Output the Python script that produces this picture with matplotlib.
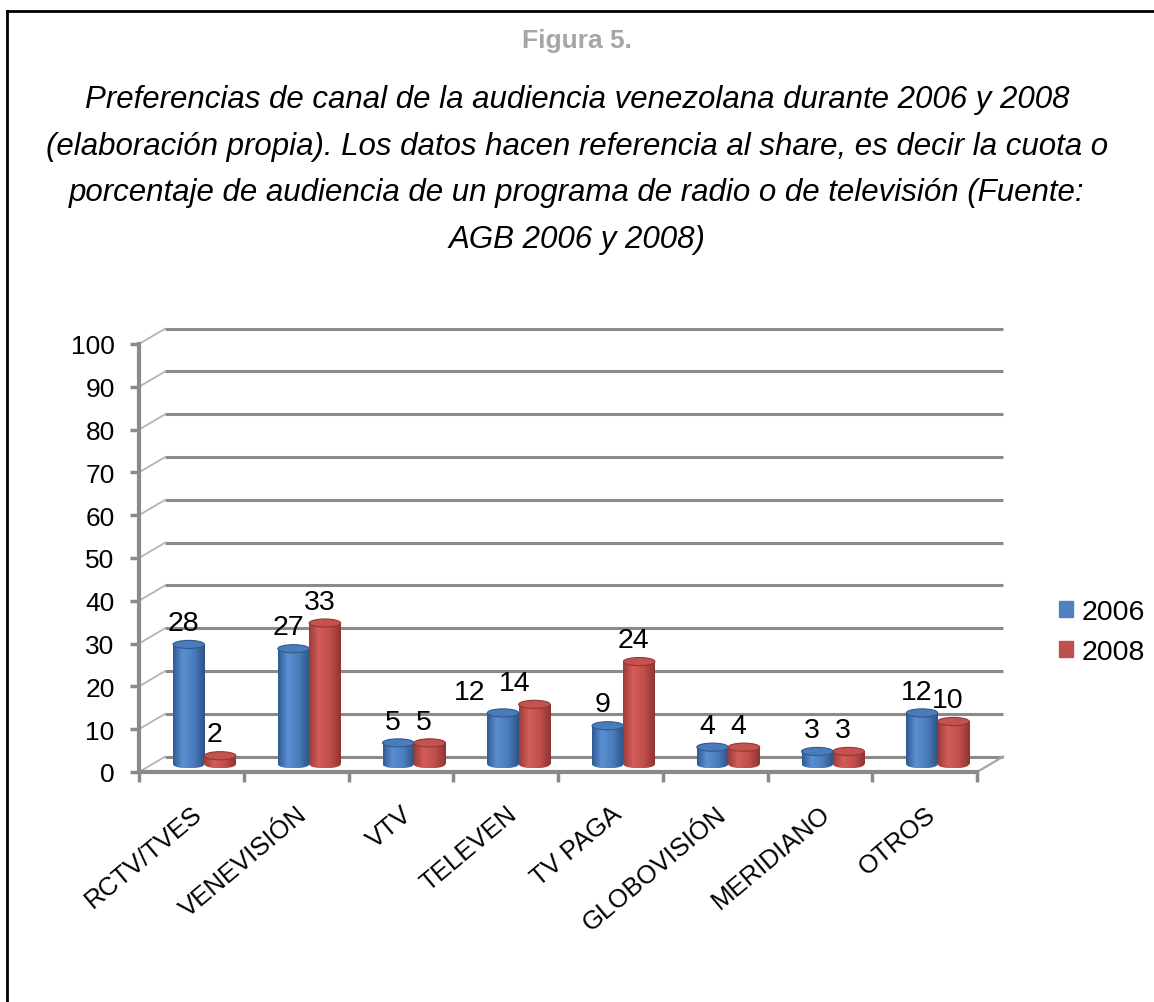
import matplotlib.pyplot as plt
import numpy as np
from matplotlib.colors import LinearSegmentedColormap
from matplotlib.patches import Ellipse, Patch
from matplotlib.lines import Line2D

plt.rcParams['font.family'] = ['Liberation Sans', 'DejaVu Sans']

CATEGORIES = ['RCTV/TVES', 'VENEVISIÓN', 'VTV', 'TELEVEN', 'TV PAGA',
              'GLOBOVISIÓN', 'MERIDIANO', 'OTROS']
SHARE_2006 = [28, 27, 5, 12, 9, 4, 3, 12]
SHARE_2008 = [2, 33, 5, 14, 24, 4, 3, 10]
YEARS = ['2006', '2008']
Y_TICKS = np.arange(0, 101, 10)

TITLE = 'Figura 5.'
CAPTION = [
    'Preferencias de canal de la audiencia venezolana durante 2006 y 2008',
    '(elaboración propia). Los datos hacen referencia al share, es decir la cuota o',
    'porcentaje de audiencia de un programa de radio o de televisión (Fuente:',
    'AGB 2006 y 2008)',
]
CAPTION_Y = [100, 147, 193, 240]

W, H, DPI = 1154, 1003, 100
DX, DY = 0.25, 3.6      # depth of the fake 3d box, data units
BAR_W = 0.3
ELL_H = 1.9
GRID = '#8a8a8a'
# value labels Excel pushed sideways (series, category) -> points
LABEL_NUDGE = {(0, 3): -20, (1, 3): -10}

BLUE = '#4F81BD'
RED = '#C0504D'
blue_cm = LinearSegmentedColormap.from_list(
    'b', [(0, '#2f5b93'), (0.3, '#5b8fd2'), (0.65, '#4b7dbd'), (1, '#2c5486')])
red_cm = LinearSegmentedColormap.from_list(
    'r', [(0, '#9c3b38'), (0.3, '#d25d5a'), (0.65, '#c24f4c'), (1, '#8f3532')])

fig = plt.figure(figsize=(W / DPI, H / DPI), dpi=DPI)
ax = fig.add_axes([139 / W, 1 - 773 / H, 838 / W, 428 / H])
ax.patch.set_visible(False)

# back wall and floor
for v in Y_TICKS:
    ax.plot([DX, 8 + DX], [v + DY, v + DY], color=GRID, lw=2.2,
            clip_on=False, zorder=1, solid_capstyle='butt')
    ax.plot([0, DX], [v, v + DY], color='#b4b4b4', lw=1.3,
            clip_on=False, zorder=1)
ax.plot([8, 8 + DX], [0, DY], color='#a6a6a6', lw=1.6, clip_on=False, zorder=1)

x = np.arange(len(CATEGORIES)) + 0.5
grad = np.linspace(0, 1, 64).reshape(1, -1)

for i, (vals, cm, top_c, edge_c) in enumerate([
        (SHARE_2006, blue_cm, '#4a7bbb', '#30598c'),
        (SHARE_2008, red_cm, '#c4524f', '#923734')]):
    xs = x + (i - 0.5) * BAR_W + DX / 2
    bars = ax.bar(xs, vals, BAR_W, bottom=DY / 2, color='none',
                  edgecolor='none', zorder=5 + i, clip_on=False)
    for j, (b, v) in enumerate(zip(bars, vals)):
        x0, y0, w, h = b.get_x(), b.get_y(), b.get_width(), b.get_height()
        bot = Ellipse((x0 + w / 2, y0), w, ELL_H, facecolor='none',
                      edgecolor='none', zorder=5 + i)
        ax.add_patch(bot)
        for clip, ext in [(bot, [x0, x0 + w, y0 - ELL_H / 2, y0 + 0.01]),
                          (b, [x0, x0 + w, y0, y0 + h])]:
            im = ax.imshow(grad, cmap=cm, extent=ext, aspect='auto',
                           zorder=5 + i, interpolation='bilinear')
            im.set_clip_path(clip)
        ax.add_patch(Ellipse((x0 + w / 2, y0 + h), w, ELL_H, facecolor=top_c,
                             edgecolor=edge_c, lw=0.8, zorder=5 + i))
        ax.annotate(str(v), (x0 + w / 2, y0 + h),
                    xytext=(-4 + LABEL_NUDGE.get((i, j), 0), 6),
                    textcoords='offset points', ha='center', va='bottom',
                    fontsize=20.5, zorder=10)

ax.set_xlim(0, 8)
ax.set_ylim(0, 100)

for s in ['top', 'right']:
    ax.spines[s].set_visible(False)
for s in ['left', 'bottom']:
    ax.spines[s].set_color(GRID)
    ax.spines[s].set_linewidth(3)

ax.set_yticks(Y_TICKS)
ax.tick_params(axis='y', length=6.5, width=2.5, color=GRID, pad=11,
               labelsize=19)
ax.set_xticks(x)
ax.set_xticklabels(CATEGORIES, rotation=40, ha='right',
                   rotation_mode='anchor', fontsize=18.5)
ax.tick_params(axis='x', which='major', length=0, pad=21)
ax.set_xticks(np.arange(0, 9), minor=True)
ax.tick_params(axis='x', which='minor', length=7, width=2.5, color=GRID)

fig.legend(handles=[Patch(color=BLUE), Patch(color=RED)], labels=YEARS,
           loc='center left', bbox_to_anchor=(1045 / W, 1 - 633 / H),
           frameon=False, fontsize=20.5, handlelength=0.5, handleheight=0.5,
           handletextpad=0.3, labelspacing=0.5, borderpad=0)

fig.text(0.5, 1 - 41 / H, TITLE, color='#a6a6a6', fontweight='bold',
         fontsize=19, ha='center', va='center')
for line, yy in zip(CAPTION, CAPTION_Y):
    fig.text(0.5, 1 - yy / H, line, style='italic', fontsize=22.5,
             ha='center', va='center')

# page frame
fig.add_artist(Line2D([7 / W, 7 / W], [0, 1 - 12 / H], color='black', lw=2,
                      transform=fig.transFigure))
fig.add_artist(Line2D([7 / W, 1], [1 - 12 / H, 1 - 12 / H], color='black',
                      lw=2, transform=fig.transFigure))

fig.savefig('out.png', dpi=DPI)
